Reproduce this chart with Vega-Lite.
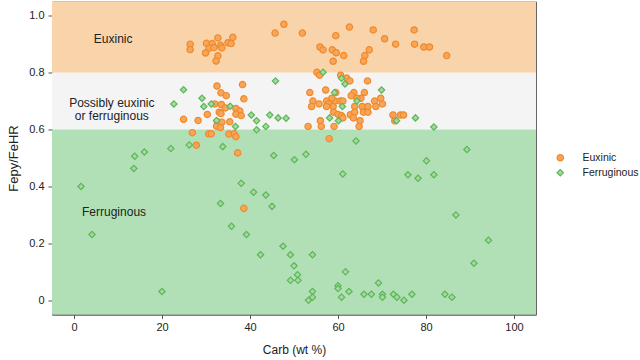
{
  "$schema": "https://vega.github.io/schema/vega-lite/v6.json",
  "autosize": {"type": "none"},
  "padding": {"left": 52, "top": 1.5, "right": 104, "bottom": 45.5},
  "width": 484,
  "height": 313,
  "config": {
    "font": "Liberation Sans",
    "view": {"stroke": "#666666", "strokeWidth": 1},
    "axis": {"grid": false, "domainColor": "#555555", "tickColor": "#555555", "tickSize": 4, "labelFontSize": 11, "labelColor": "#222222", "titleFontSize": 12, "titleFontWeight": "normal", "titleColor": "#222222"},
    "legend": {"labelFontSize": 10.5, "labelColor": "#222222", "orient": "none", "legendX": 503, "legendY": 151, "symbolSize": 40, "symbolStrokeWidth": 1.2, "labelOffset": 17, "rowPadding": 3}
  },
  "datasets": {
    "bands": [
      {"lo": 0.8, "hi": 1.05, "zone": "euxinic"},
      {"lo": 0.6, "hi": 0.8, "zone": "possible"},
      {"lo": -0.05, "hi": 0.6, "zone": "ferruginous"}
    ],
    "labels": [
      {"carb": 8.9, "fe": 0.917, "label": "Euxinic"},
      {"carb": 8.6, "fe": 0.695, "label": "Possibly euxinic\nor ferruginous"},
      {"carb": 9.1, "fe": 0.31, "label": "Ferruginous"}
    ],
    "points": [
      {"carb": 26.4, "fe": 0.900, "type": "Euxinic"},
      {"carb": 26.4, "fe": 0.881, "type": "Euxinic"},
      {"carb": 30.1, "fe": 0.903, "type": "Euxinic"},
      {"carb": 31.4, "fe": 0.902, "type": "Euxinic"},
      {"carb": 32.7, "fe": 0.922, "type": "Euxinic"},
      {"carb": 30.7, "fe": 0.886, "type": "Euxinic"},
      {"carb": 31.8, "fe": 0.888, "type": "Euxinic"},
      {"carb": 29.9, "fe": 0.869, "type": "Euxinic"},
      {"carb": 33.3, "fe": 0.896, "type": "Euxinic"},
      {"carb": 33.6, "fe": 0.887, "type": "Euxinic"},
      {"carb": 35.0, "fe": 0.905, "type": "Euxinic"},
      {"carb": 35.7, "fe": 0.902, "type": "Euxinic"},
      {"carb": 36.1, "fe": 0.924, "type": "Euxinic"},
      {"carb": 32.7, "fe": 0.859, "type": "Euxinic"},
      {"carb": 32.3, "fe": 0.841, "type": "Euxinic"},
      {"carb": 45.7, "fe": 0.939, "type": "Euxinic"},
      {"carb": 47.7, "fe": 0.970, "type": "Euxinic"},
      {"carb": 51.9, "fe": 0.939, "type": "Euxinic"},
      {"carb": 62.6, "fe": 0.960, "type": "Euxinic"},
      {"carb": 59.5, "fe": 0.930, "type": "Euxinic"},
      {"carb": 55.9, "fe": 0.890, "type": "Euxinic"},
      {"carb": 56.6, "fe": 0.880, "type": "Euxinic"},
      {"carb": 58.7, "fe": 0.880, "type": "Euxinic"},
      {"carb": 59.6, "fe": 0.870, "type": "Euxinic"},
      {"carb": 61.3, "fe": 0.860, "type": "Euxinic"},
      {"carb": 58.9, "fe": 0.840, "type": "Euxinic"},
      {"carb": 68.0, "fe": 0.950, "type": "Euxinic"},
      {"carb": 70.6, "fe": 0.919, "type": "Euxinic"},
      {"carb": 73.1, "fe": 0.900, "type": "Euxinic"},
      {"carb": 77.3, "fe": 0.950, "type": "Euxinic"},
      {"carb": 77.4, "fe": 0.900, "type": "Euxinic"},
      {"carb": 79.5, "fe": 0.890, "type": "Euxinic"},
      {"carb": 80.8, "fe": 0.890, "type": "Euxinic"},
      {"carb": 67.1, "fe": 0.880, "type": "Euxinic"},
      {"carb": 66.1, "fe": 0.860, "type": "Euxinic"},
      {"carb": 65.8, "fe": 0.840, "type": "Euxinic"},
      {"carb": 84.7, "fe": 0.860, "type": "Euxinic"},
      {"carb": 55.2, "fe": 0.801, "type": "Euxinic"},
      {"carb": 55.8, "fe": 0.791, "type": "Euxinic"},
      {"carb": 60.6, "fe": 0.791, "type": "Euxinic"},
      {"carb": 62.0, "fe": 0.781, "type": "Euxinic"},
      {"carb": 62.7, "fe": 0.771, "type": "Euxinic"},
      {"carb": 66.7, "fe": 0.771, "type": "Euxinic"},
      {"carb": 32.5, "fe": 0.753, "type": "Euxinic"},
      {"carb": 38.3, "fe": 0.758, "type": "Euxinic"},
      {"carb": 33.4, "fe": 0.729, "type": "Euxinic"},
      {"carb": 34.6, "fe": 0.719, "type": "Euxinic"},
      {"carb": 38.6, "fe": 0.708, "type": "Euxinic"},
      {"carb": 32.0, "fe": 0.690, "type": "Euxinic"},
      {"carb": 33.5, "fe": 0.688, "type": "Euxinic"},
      {"carb": 34.4, "fe": 0.676, "type": "Euxinic"},
      {"carb": 33.0, "fe": 0.661, "type": "Euxinic"},
      {"carb": 33.4, "fe": 0.656, "type": "Euxinic"},
      {"carb": 30.3, "fe": 0.653, "type": "Euxinic"},
      {"carb": 36.8, "fe": 0.674, "type": "Euxinic"},
      {"carb": 37.7, "fe": 0.665, "type": "Euxinic"},
      {"carb": 36.8, "fe": 0.654, "type": "Euxinic"},
      {"carb": 38.0, "fe": 0.649, "type": "Euxinic"},
      {"carb": 24.9, "fe": 0.636, "type": "Euxinic"},
      {"carb": 28.2, "fe": 0.632, "type": "Euxinic"},
      {"carb": 32.6, "fe": 0.627, "type": "Euxinic"},
      {"carb": 33.6, "fe": 0.626, "type": "Euxinic"},
      {"carb": 35.4, "fe": 0.627, "type": "Euxinic"},
      {"carb": 32.4, "fe": 0.612, "type": "Euxinic"},
      {"carb": 33.3, "fe": 0.607, "type": "Euxinic"},
      {"carb": 26.9, "fe": 0.589, "type": "Euxinic"},
      {"carb": 30.6, "fe": 0.585, "type": "Euxinic"},
      {"carb": 31.2, "fe": 0.585, "type": "Euxinic"},
      {"carb": 35.2, "fe": 0.584, "type": "Euxinic"},
      {"carb": 36.4, "fe": 0.585, "type": "Euxinic"},
      {"carb": 36.8, "fe": 0.575, "type": "Euxinic"},
      {"carb": 27.8, "fe": 0.545, "type": "Euxinic"},
      {"carb": 37.2, "fe": 0.518, "type": "Euxinic"},
      {"carb": 38.6, "fe": 0.323, "type": "Euxinic"},
      {"carb": 53.6, "fe": 0.730, "type": "Euxinic"},
      {"carb": 57.2, "fe": 0.739, "type": "Euxinic"},
      {"carb": 59.5, "fe": 0.730, "type": "Euxinic"},
      {"carb": 63.6, "fe": 0.730, "type": "Euxinic"},
      {"carb": 63.0, "fe": 0.719, "type": "Euxinic"},
      {"carb": 66.0, "fe": 0.730, "type": "Euxinic"},
      {"carb": 65.2, "fe": 0.710, "type": "Euxinic"},
      {"carb": 64.3, "fe": 0.710, "type": "Euxinic"},
      {"carb": 69.7, "fe": 0.710, "type": "Euxinic"},
      {"carb": 68.3, "fe": 0.700, "type": "Euxinic"},
      {"carb": 70.1, "fe": 0.690, "type": "Euxinic"},
      {"carb": 54.3, "fe": 0.700, "type": "Euxinic"},
      {"carb": 54.0, "fe": 0.681, "type": "Euxinic"},
      {"carb": 55.7, "fe": 0.690, "type": "Euxinic"},
      {"carb": 57.4, "fe": 0.700, "type": "Euxinic"},
      {"carb": 57.8, "fe": 0.690, "type": "Euxinic"},
      {"carb": 57.4, "fe": 0.681, "type": "Euxinic"},
      {"carb": 59.3, "fe": 0.700, "type": "Euxinic"},
      {"carb": 60.5, "fe": 0.700, "type": "Euxinic"},
      {"carb": 61.1, "fe": 0.700, "type": "Euxinic"},
      {"carb": 58.9, "fe": 0.681, "type": "Euxinic"},
      {"carb": 58.6, "fe": 0.710, "type": "Euxinic"},
      {"carb": 63.8, "fe": 0.681, "type": "Euxinic"},
      {"carb": 65.5, "fe": 0.681, "type": "Euxinic"},
      {"carb": 66.8, "fe": 0.681, "type": "Euxinic"},
      {"carb": 68.6, "fe": 0.681, "type": "Euxinic"},
      {"carb": 59.0, "fe": 0.661, "type": "Euxinic"},
      {"carb": 60.0, "fe": 0.653, "type": "Euxinic"},
      {"carb": 60.8, "fe": 0.649, "type": "Euxinic"},
      {"carb": 61.1, "fe": 0.641, "type": "Euxinic"},
      {"carb": 62.8, "fe": 0.652, "type": "Euxinic"},
      {"carb": 63.8, "fe": 0.661, "type": "Euxinic"},
      {"carb": 63.5, "fe": 0.641, "type": "Euxinic"},
      {"carb": 65.8, "fe": 0.661, "type": "Euxinic"},
      {"carb": 66.8, "fe": 0.661, "type": "Euxinic"},
      {"carb": 65.0, "fe": 0.631, "type": "Euxinic"},
      {"carb": 72.5, "fe": 0.651, "type": "Euxinic"},
      {"carb": 74.2, "fe": 0.651, "type": "Euxinic"},
      {"carb": 74.9, "fe": 0.651, "type": "Euxinic"},
      {"carb": 72.9, "fe": 0.631, "type": "Euxinic"},
      {"carb": 56.0, "fe": 0.631, "type": "Euxinic"},
      {"carb": 56.2, "fe": 0.611, "type": "Euxinic"},
      {"carb": 53.2, "fe": 0.611, "type": "Euxinic"},
      {"carb": 59.1, "fe": 0.611, "type": "Euxinic"},
      {"carb": 64.8, "fe": 0.611, "type": "Euxinic"},
      {"carb": 58.0, "fe": 0.568, "type": "Euxinic"},
      {"carb": 24.9, "fe": 0.740, "type": "Ferruginous"},
      {"carb": 29.1, "fe": 0.710, "type": "Ferruginous"},
      {"carb": 22.7, "fe": 0.690, "type": "Ferruginous"},
      {"carb": 29.5, "fe": 0.681, "type": "Ferruginous"},
      {"carb": 31.2, "fe": 0.690, "type": "Ferruginous"},
      {"carb": 35.5, "fe": 0.682, "type": "Ferruginous"},
      {"carb": 32.4, "fe": 0.632, "type": "Ferruginous"},
      {"carb": 36.7, "fe": 0.611, "type": "Ferruginous"},
      {"carb": 40.3, "fe": 0.651, "type": "Ferruginous"},
      {"carb": 41.5, "fe": 0.631, "type": "Ferruginous"},
      {"carb": 44.5, "fe": 0.651, "type": "Ferruginous"},
      {"carb": 46.4, "fe": 0.641, "type": "Ferruginous"},
      {"carb": 48.2, "fe": 0.640, "type": "Ferruginous"},
      {"carb": 43.6, "fe": 0.611, "type": "Ferruginous"},
      {"carb": 41.5, "fe": 0.599, "type": "Ferruginous"},
      {"carb": 45.8, "fe": 0.771, "type": "Ferruginous"},
      {"carb": 22.0, "fe": 0.533, "type": "Ferruginous"},
      {"carb": 26.2, "fe": 0.546, "type": "Ferruginous"},
      {"carb": 33.8, "fe": 0.540, "type": "Ferruginous"},
      {"carb": 45.4, "fe": 0.509, "type": "Ferruginous"},
      {"carb": 13.8, "fe": 0.506, "type": "Ferruginous"},
      {"carb": 16.0, "fe": 0.521, "type": "Ferruginous"},
      {"carb": 13.6, "fe": 0.463, "type": "Ferruginous"},
      {"carb": 1.6, "fe": 0.400, "type": "Ferruginous"},
      {"carb": 4.1, "fe": 0.231, "type": "Ferruginous"},
      {"carb": 20.0, "fe": 0.031, "type": "Ferruginous"},
      {"carb": 33.3, "fe": 0.340, "type": "Ferruginous"},
      {"carb": 38.0, "fe": 0.411, "type": "Ferruginous"},
      {"carb": 40.8, "fe": 0.380, "type": "Ferruginous"},
      {"carb": 43.6, "fe": 0.370, "type": "Ferruginous"},
      {"carb": 45.0, "fe": 0.330, "type": "Ferruginous"},
      {"carb": 35.8, "fe": 0.260, "type": "Ferruginous"},
      {"carb": 39.2, "fe": 0.231, "type": "Ferruginous"},
      {"carb": 42.4, "fe": 0.160, "type": "Ferruginous"},
      {"carb": 47.5, "fe": 0.190, "type": "Ferruginous"},
      {"carb": 49.2, "fe": 0.160, "type": "Ferruginous"},
      {"carb": 54.2, "fe": 0.160, "type": "Ferruginous"},
      {"carb": 50.0, "fe": 0.121, "type": "Ferruginous"},
      {"carb": 50.8, "fe": 0.090, "type": "Ferruginous"},
      {"carb": 49.2, "fe": 0.070, "type": "Ferruginous"},
      {"carb": 50.9, "fe": 0.070, "type": "Ferruginous"},
      {"carb": 61.7, "fe": 0.100, "type": "Ferruginous"},
      {"carb": 60.0, "fe": 0.051, "type": "Ferruginous"},
      {"carb": 60.0, "fe": 0.041, "type": "Ferruginous"},
      {"carb": 54.2, "fe": 0.031, "type": "Ferruginous"},
      {"carb": 53.3, "fe": 0.000, "type": "Ferruginous"},
      {"carb": 54.2, "fe": 0.011, "type": "Ferruginous"},
      {"carb": 62.5, "fe": 0.031, "type": "Ferruginous"},
      {"carb": 60.8, "fe": 0.011, "type": "Ferruginous"},
      {"carb": 65.9, "fe": 0.021, "type": "Ferruginous"},
      {"carb": 67.6, "fe": 0.021, "type": "Ferruginous"},
      {"carb": 69.2, "fe": 0.061, "type": "Ferruginous"},
      {"carb": 70.1, "fe": 0.021, "type": "Ferruginous"},
      {"carb": 70.1, "fe": 0.011, "type": "Ferruginous"},
      {"carb": 72.6, "fe": 0.021, "type": "Ferruginous"},
      {"carb": 73.4, "fe": 0.011, "type": "Ferruginous"},
      {"carb": 75.0, "fe": 0.000, "type": "Ferruginous"},
      {"carb": 76.8, "fe": 0.021, "type": "Ferruginous"},
      {"carb": 84.3, "fe": 0.021, "type": "Ferruginous"},
      {"carb": 85.9, "fe": 0.011, "type": "Ferruginous"},
      {"carb": 86.8, "fe": 0.300, "type": "Ferruginous"},
      {"carb": 94.2, "fe": 0.211, "type": "Ferruginous"},
      {"carb": 90.9, "fe": 0.130, "type": "Ferruginous"},
      {"carb": 89.3, "fe": 0.530, "type": "Ferruginous"},
      {"carb": 80.1, "fe": 0.490, "type": "Ferruginous"},
      {"carb": 61.1, "fe": 0.444, "type": "Ferruginous"},
      {"carb": 75.9, "fe": 0.441, "type": "Ferruginous"},
      {"carb": 78.2, "fe": 0.429, "type": "Ferruginous"},
      {"carb": 81.8, "fe": 0.441, "type": "Ferruginous"},
      {"carb": 52.7, "fe": 0.513, "type": "Ferruginous"},
      {"carb": 50.1, "fe": 0.494, "type": "Ferruginous"},
      {"carb": 64.1, "fe": 0.560, "type": "Ferruginous"},
      {"carb": 81.8, "fe": 0.609, "type": "Ferruginous"},
      {"carb": 77.6, "fe": 0.641, "type": "Ferruginous"},
      {"carb": 73.3, "fe": 0.631, "type": "Ferruginous"},
      {"carb": 60.1, "fe": 0.631, "type": "Ferruginous"},
      {"carb": 58.1, "fe": 0.641, "type": "Ferruginous"},
      {"carb": 61.0, "fe": 0.681, "type": "Ferruginous"},
      {"carb": 64.3, "fe": 0.700, "type": "Ferruginous"},
      {"carb": 59.2, "fe": 0.730, "type": "Ferruginous"},
      {"carb": 69.9, "fe": 0.739, "type": "Ferruginous"},
      {"carb": 61.6, "fe": 0.760, "type": "Ferruginous"},
      {"carb": 60.8, "fe": 0.780, "type": "Ferruginous"},
      {"carb": 56.6, "fe": 0.801, "type": "Ferruginous"}
    ]
  },
  "layer": [
    {
      "data": {"name": "bands"},
      "mark": {"type": "rect", "strokeWidth": 0},
      "encoding": {
        "y": {"field": "lo", "type": "quantitative", "scale": {"domain": [-0.05, 1.05], "nice": false, "zero": false},
              "axis": {"values": [0, 0.2, 0.4, 0.6, 0.8, 1.0], "labelExpr": "datum.value == 0 ? '0' : format(datum.value, '.1f')", "title": "Fepy/FeHR", "titlePadding": 8, "labelPadding": 4, "titleFontSize": 13}},
        "y2": {"field": "hi"},
        "color": {"field": "zone", "type": "nominal", "scale": {"domain": ["euxinic", "possible", "ferruginous"], "range": ["#f9d3aa", "#f4f4f4", "#b2e0b6"]}, "legend": null}
      }
    },
    {
      "data": {"name": "labels"},
      "mark": {"type": "text", "fontSize": 12, "color": "#222222", "align": "center", "baseline": "middle", "lineBreak": "\n", "lineHeight": 13.5},
      "encoding": {
        "x": {"field": "carb", "type": "quantitative"},
        "y": {"field": "fe", "type": "quantitative"},
        "text": {"field": "label"}
      }
    },
    {
      "data": {"name": "points"},
      "mark": {"type": "point", "filled": false, "size": 40, "strokeWidth": 1.2, "opacity": 1, "fillOpacity": 1},
      "encoding": {
        "x": {"field": "carb", "type": "quantitative", "scale": {"domain": [-5, 105], "nice": false, "zero": false},
              "axis": {"values": [0, 20, 40, 60, 80, 100], "title": "Carb (wt %)", "labelPadding": 3, "titlePadding": 12}},
        "y": {"field": "fe", "type": "quantitative"},
        "shape": {"field": "type", "type": "nominal", "scale": {"domain": ["Euxinic", "Ferruginous"], "range": ["circle", "diamond"]}, "legend": {"title": null}},
        "fill": {"field": "type", "type": "nominal", "scale": {"domain": ["Euxinic", "Ferruginous"], "range": ["#f8a55a", "#a6da9c"]}, "legend": {"title": null}},
        "stroke": {"field": "type", "type": "nominal", "scale": {"domain": ["Euxinic", "Ferruginous"], "range": ["#ef8a2c", "#5cb65a"]}, "legend": {"title": null}}
      }
    }
  ]
}
